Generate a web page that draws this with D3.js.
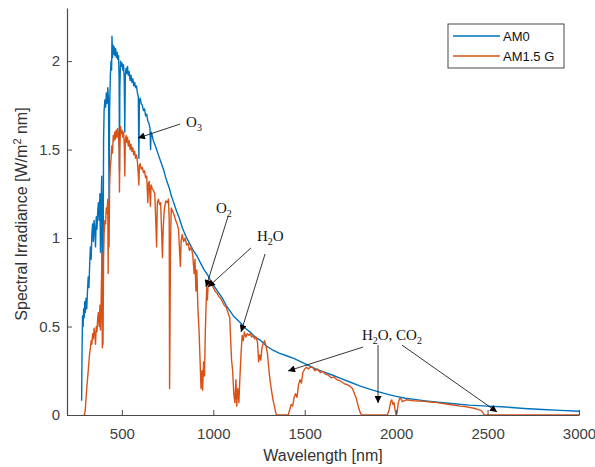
<!DOCTYPE html>
<html>
<head>
<meta charset="utf-8">
<script src="https://cdn.jsdelivr.net/npm/d3@7"></script>
<style>
  body { margin: 0; background: #fff; }
  svg { display: block; }
</style>
</head>
<body>
<div id="chart"></div>
<script>
// spectra: [wavelength nm, irradiance W/m^2 nm]
var am0 = [
  [280,0.08],[282,0.33],[285,0.56],[288,0.50],[291,0.60],[294,0.55],[297,0.64],[300,0.58],
  [304,0.66],[308,0.60],[312,0.70],[316,0.78],[320,0.72],[324,0.85],[328,0.95],[332,0.88],
  [336,1.02],[340,1.08],[344,0.98],[348,1.10],[352,1.05],[356,0.95],[360,1.12],[364,1.05],
  [368,1.15],[372,1.20],[376,1.10],[380,1.25],[383,0.92],[386,1.18],[390,1.35],[393,0.68],
  [395,1.25],[397,0.72],[400,1.55],[403,1.72],[407,1.78],[411,1.74],[415,1.82],[419,1.76],
  [423,1.85],[427,1.78],[430,1.18],[433,1.72],[437,1.92],[441,2.00],[444,1.95],[446,2.14],
  [449,2.02],[452,2.09],[455,2.04],[458,2.08],[462,2.03],[466,2.07],[470,2.02],[474,2.05],
  [478,2.01],[482,2.03],[485,1.90],[487,1.38],[489,1.85],[493,2.00],[497,1.97],[501,1.99],
  [505,1.95],[509,1.98],[513,1.90],[516,1.60],[519,1.92],[523,1.96],[527,1.93],[531,1.97],
  [535,1.92],[540,1.94],[545,1.89],[550,1.92],[555,1.88],[560,1.90],[565,1.86],[570,1.88],
  [575,1.85],[580,1.86],[585,1.82],[590,1.80],[593,1.45],[596,1.78],[600,1.79],[606,1.76],
  [612,1.75],[618,1.72],[624,1.73],[630,1.69],[636,1.70],[642,1.66],[648,1.65],[654,1.62],
  [657,1.50],[660,1.60],[666,1.58],[672,1.55],[680,1.53],[690,1.50],[700,1.47],[710,1.44],
  [720,1.41],[730,1.38],[740,1.34],[750,1.31],[760,1.28],[770,1.24],[780,1.21],[790,1.18],
  [800,1.15],[815,1.11],[830,1.06],[850,1.01],[870,0.97],[890,0.93],[910,0.90],[930,0.86],
  [950,0.82],[970,0.79],[990,0.75],[1010,0.72],[1030,0.69],[1050,0.66],[1070,0.62],[1090,0.59],
  [1110,0.56],[1130,0.54],[1150,0.52],[1175,0.49],[1200,0.47],[1230,0.44],[1260,0.42],[1290,0.39],
  [1320,0.37],[1360,0.35],[1400,0.335],[1440,0.32],[1480,0.30],[1520,0.28],[1560,0.26],[1600,0.245],
  [1650,0.226],[1700,0.205],[1750,0.185],[1800,0.165],[1850,0.148],[1900,0.132],[1950,0.118],
  [2000,0.105],[2050,0.095],[2100,0.088],[2150,0.081],[2200,0.075],[2300,0.065],[2400,0.056],
  [2500,0.05],[2600,0.045],[2700,0.037],[2800,0.031],[2900,0.026],[3000,0.021]
];

var am15g = [
  [290,0],[296,0],[300,0.03],[304,0.09],[308,0.15],[312,0.20],[316,0.25],[320,0.30],[324,0.35],
  [328,0.38],[332,0.42],[336,0.40],[340,0.46],[344,0.43],[348,0.49],[352,0.46],[356,0.40],
  [360,0.50],[364,0.47],[368,0.55],[372,0.58],[376,0.50],[380,0.62],[383,0.48],[386,0.60],
  [389,0.78],[391,0.92],[393,0.38],[395,0.62],[397,0.40],[400,0.88],[403,1.02],[407,1.10],
  [411,1.08],[415,1.17],[419,1.14],[423,1.22],[425,0.80],[427,1.20],[430,0.95],[433,1.30],
  [437,1.40],[441,1.45],[445,1.52],[449,1.48],[453,1.58],[457,1.55],[461,1.60],[465,1.56],
  [469,1.61],[473,1.57],[477,1.62],[481,1.58],[485,1.50],[487,1.26],[489,1.52],[493,1.63],
  [497,1.59],[501,1.61],[505,1.57],[509,1.60],[513,1.53],[516,1.35],[519,1.55],[523,1.58],
  [527,1.54],[531,1.57],[535,1.52],[540,1.55],[545,1.50],[550,1.53],[555,1.49],[560,1.51],
  [565,1.47],[570,1.49],[575,1.45],[580,1.47],[585,1.43],[590,1.36],[593,1.30],[596,1.41],
  [600,1.42],[606,1.39],[612,1.40],[618,1.37],[624,1.38],[630,1.34],[636,1.35],[642,1.20],
  [646,1.31],[650,1.32],[656,1.18],[660,1.30],[666,1.28],[672,1.27],[680,1.25],[687,1.05],
  [690,0.95],[694,1.20],[700,1.22],[706,1.19],[712,1.20],[718,1.02],[722,0.89],[726,1.05],
  [732,1.16],[740,1.21],[748,1.20],[755,1.22],[759,1.10],[761,0.15],[763,0.45],[766,0.95],
  [770,1.17],[778,1.15],[786,1.13],[794,1.10],[802,1.08],[810,1.05],[816,0.92],[820,0.84],
  [824,0.98],[830,1.02],[838,0.98],[846,1.00],[854,0.96],[862,0.97],[870,0.93],[880,0.95],
  [888,0.90],[895,0.80],[900,0.88],[905,0.70],[910,0.82],[916,0.60],[922,0.48],[928,0.30],
  [933,0.15],[938,0.25],[942,0.14],[947,0.30],[952,0.22],[956,0.45],[960,0.60],[964,0.72],
  [968,0.65],[972,0.75],[978,0.74],[985,0.76],[992,0.74],[1000,0.72],[1010,0.70],[1020,0.69],
  [1030,0.67],[1040,0.66],[1050,0.64],[1060,0.62],[1070,0.61],[1080,0.58],[1090,0.55],[1096,0.40],
  [1100,0.31],[1106,0.25],[1112,0.12],[1118,0.07],[1124,0.20],[1128,0.05],[1134,0.15],[1140,0.07],
  [1146,0.22],[1152,0.35],[1158,0.45],[1164,0.42],[1170,0.47],[1178,0.44],[1186,0.46],[1194,0.45],
  [1202,0.46],[1210,0.44],[1218,0.45],[1226,0.43],[1234,0.44],[1242,0.41],[1248,0.30],[1254,0.34],
  [1260,0.31],[1266,0.38],[1272,0.40],[1280,0.42],[1288,0.39],[1296,0.35],[1302,0.28],[1310,0.20],
  [1318,0.14],[1326,0.09],[1334,0.05],[1340,0.02],[1346,0],[1410,0],[1418,0.03],[1426,0.06],
  [1434,0.05],[1442,0.10],[1450,0.12],[1458,0.10],[1466,0.17],[1474,0.20],[1482,0.18],[1490,0.24],
  [1500,0.26],[1510,0.27],[1520,0.26],[1530,0.27],[1543,0.27],[1556,0.25],[1570,0.26],[1585,0.24],
  [1600,0.245],[1615,0.23],[1630,0.225],[1645,0.21],[1660,0.215],[1675,0.20],[1690,0.195],
  [1705,0.185],[1720,0.175],[1735,0.17],[1750,0.16],[1761,0.15],[1772,0.12],[1783,0.09],
  [1795,0.04],[1805,0.01],[1812,0],[1952,0],[1962,0.03],[1970,0.075],[1976,0.085],[1982,0.06],
  [1988,0.07],[1994,0.03],[2000,0],[2006,0.02],[2012,0.07],[2020,0.095],[2028,0.09],[2034,0.075],
  [2042,0.08],[2056,0.086],[2075,0.083],[2100,0.08],[2125,0.079],[2150,0.077],[2175,0.075],
  [2200,0.072],[2225,0.07],[2250,0.066],[2275,0.062],[2300,0.058],[2325,0.055],[2350,0.05],
  [2375,0.048],[2400,0.043],[2425,0.038],[2450,0.03],[2465,0.025],[2475,0.012],[2482,0],[3000,0]
];

var xTicks = [500, 1000, 1500, 2000, 2500, 3000];
var yTicks = [0, 0.5, 1, 1.5, 2];
var seriesNames = ["AM0", "AM1.5 G"];
var seriesColors = ["#0072BD", "#D95319"];

// annotation labels: text parts, anchor point and arrows, all in data units
var notes = [
  {parts: [["O",""],["3","sub"]], at: [851, 1.63],
   arrows: [[[818, 1.644], [588, 1.565]]]},
  {parts: [["O",""],["2","sub"]], at: [1015, 1.14],
   arrows: [[[1080, 1.12], [960, 0.723]]]},
  {parts: [["H",""],["2","sub"],["O",""]], at: [1239, 0.983],
   arrows: [[[1206, 0.944], [971, 0.723]], [[1283, 0.91], [1152, 0.469]]]},
  {parts: [["H",""],["2","sub"],["O, CO",""],["2","sub"]], at: [1813, 0.424],
   arrows: [[[1819, 0.384], [1409, 0.249]], [[1901, 0.395], [1901, 0.068]], [[2032, 0.395], [2552, 0.017]]]}
];

var W = 595, H = 467;
var margin = {left: 67, right: 16, top: 8, bottom: 52};

var svg = d3.select("#chart")
    .append("svg")
    .attr("width", W)
    .attr("height", H);

var x = d3.scaleLinear()
    .domain([200, 3000])
    .range([margin.left, W - margin.right]);

var y = d3.scaleLinear()
    .domain([0, 2.3])
    .range([H - margin.bottom, margin.top]);

var defs = svg.append("defs");
defs.append("marker")
    .attr("id", "head")
    .attr("markerUnits", "userSpaceOnUse")
    .attr("viewBox", "0 0 10 10")
    .attr("refX", 10)
    .attr("refY", 5)
    .attr("markerWidth", 8)
    .attr("markerHeight", 7)
    .attr("orient", "auto")
    .append("path")
    .attr("d", "M0,0 L10,5 L0,10 z")
    .attr("fill", "#000");

defs.append("clipPath")
    .attr("id", "plotclip")
    .append("rect")
    .attr("x", margin.left)
    .attr("y", margin.top - 2)
    .attr("width", W - margin.left - margin.right)
    .attr("height", H - margin.top - margin.bottom + 2);

var line = d3.line()
    .x(function(d){ return x(d[0]); })
    .y(function(d){ return y(d[1]); });

var lines = svg.append("g").attr("clip-path", "url(#plotclip)");
[am0, am15g].forEach(function(s, i){
    lines.append("path")
        .datum(s)
        .attr("d", line)
        .attr("fill", "none")
        .attr("stroke", seriesColors[i])
        .attr("stroke-width", 1.4)
        .attr("stroke-linejoin", "round");
});

// axes, MATLAB style ticks pointing inward
var axisColor = "#4a4a4a";
var gx = svg.append("g")
    .attr("transform", "translate(0," + y(0) + ")")
    .call(d3.axisBottom(x).tickValues(xTicks).tickSizeInner(-5).tickSizeOuter(0).tickPadding(13)
        .tickFormat(d3.format("d")));
var gy = svg.append("g")
    .attr("transform", "translate(" + x(200) + ",0)")
    .call(d3.axisLeft(y).tickValues(yTicks).tickSizeInner(-5).tickSizeOuter(0).tickPadding(7)
        .tickFormat(function(d){ return d; }));

[gx, gy].forEach(function(g){
    g.select(".domain").attr("stroke", axisColor).attr("stroke-width", 1.2);
    g.selectAll(".tick line").attr("stroke", axisColor);
    g.selectAll(".tick text")
        .attr("fill", "#404040")
        .style("font-family", "Liberation Sans, Arial, sans-serif")
        .style("font-size", "15px");
});

svg.append("text")
    .attr("x", (x(200) + x(3000)) / 2)
    .attr("y", 461)
    .attr("text-anchor", "middle")
    .attr("fill", "#333")
    .style("font-family", "Liberation Sans, Arial, sans-serif")
    .style("font-size", "16px")
    .text("Wavelength [nm]");

var ylab = svg.append("text")
    .attr("transform", "translate(27," + 214 + ") rotate(-90)")
    .attr("text-anchor", "middle")
    .attr("fill", "#333")
    .style("font-family", "Liberation Sans, Arial, sans-serif")
    .style("font-size", "16px");
ylab.append("tspan").text("Spectral Irradiance [W/m");
ylab.append("tspan").attr("dy", -6).style("font-size", "11px").text("2");
ylab.append("tspan").attr("dy", 6).text(" nm]");

// annotations
var ann = svg.append("g");
notes.forEach(function(n){
    var t = ann.append("text")
        .attr("x", x(n.at[0]))
        .attr("y", y(n.at[1]))
        .attr("fill", "#111")
        .style("font-family", "Liberation Serif, Times New Roman, serif")
        .style("font-size", "15px");
    var low = false;
    n.parts.forEach(function(p){
        var ts = t.append("tspan").text(p[0]);
        if (p[1] === "sub" && !low) { ts.attr("dy", 4).style("font-size", "10px"); low = true; }
        else if (p[1] !== "sub" && low) { ts.attr("dy", -4); low = false; }
        else if (p[1] === "sub") { ts.style("font-size", "10px"); }
    });
    n.arrows.forEach(function(a){
        ann.append("line")
            .attr("x1", x(a[0][0])).attr("y1", y(a[0][1]))
            .attr("x2", x(a[1][0])).attr("y2", y(a[1][1]))
            .attr("stroke", "#000")
            .attr("stroke-width", 0.8)
            .attr("marker-end", "url(#head)");
    });
});

// legend
var lg = svg.append("g").attr("transform", "translate(448,24)");
lg.append("rect")
    .attr("width", 116).attr("height", 44)
    .attr("fill", "#fff")
    .attr("stroke", "#333")
    .attr("stroke-width", 0.9);
seriesNames.forEach(function(name, i){
    var yy = 12 + i * 20;
    lg.append("line")
        .attr("x1", 5).attr("x2", 52)
        .attr("y1", yy).attr("y2", yy)
        .attr("stroke", seriesColors[i])
        .attr("stroke-width", 1.4);
    lg.append("text")
        .attr("x", 55).attr("y", yy + 5)
        .attr("fill", "#111")
        .style("font-family", "Liberation Sans, Arial, sans-serif")
        .style("font-size", "13px")
        .text(name);
});
</script>
</body>
</html>
